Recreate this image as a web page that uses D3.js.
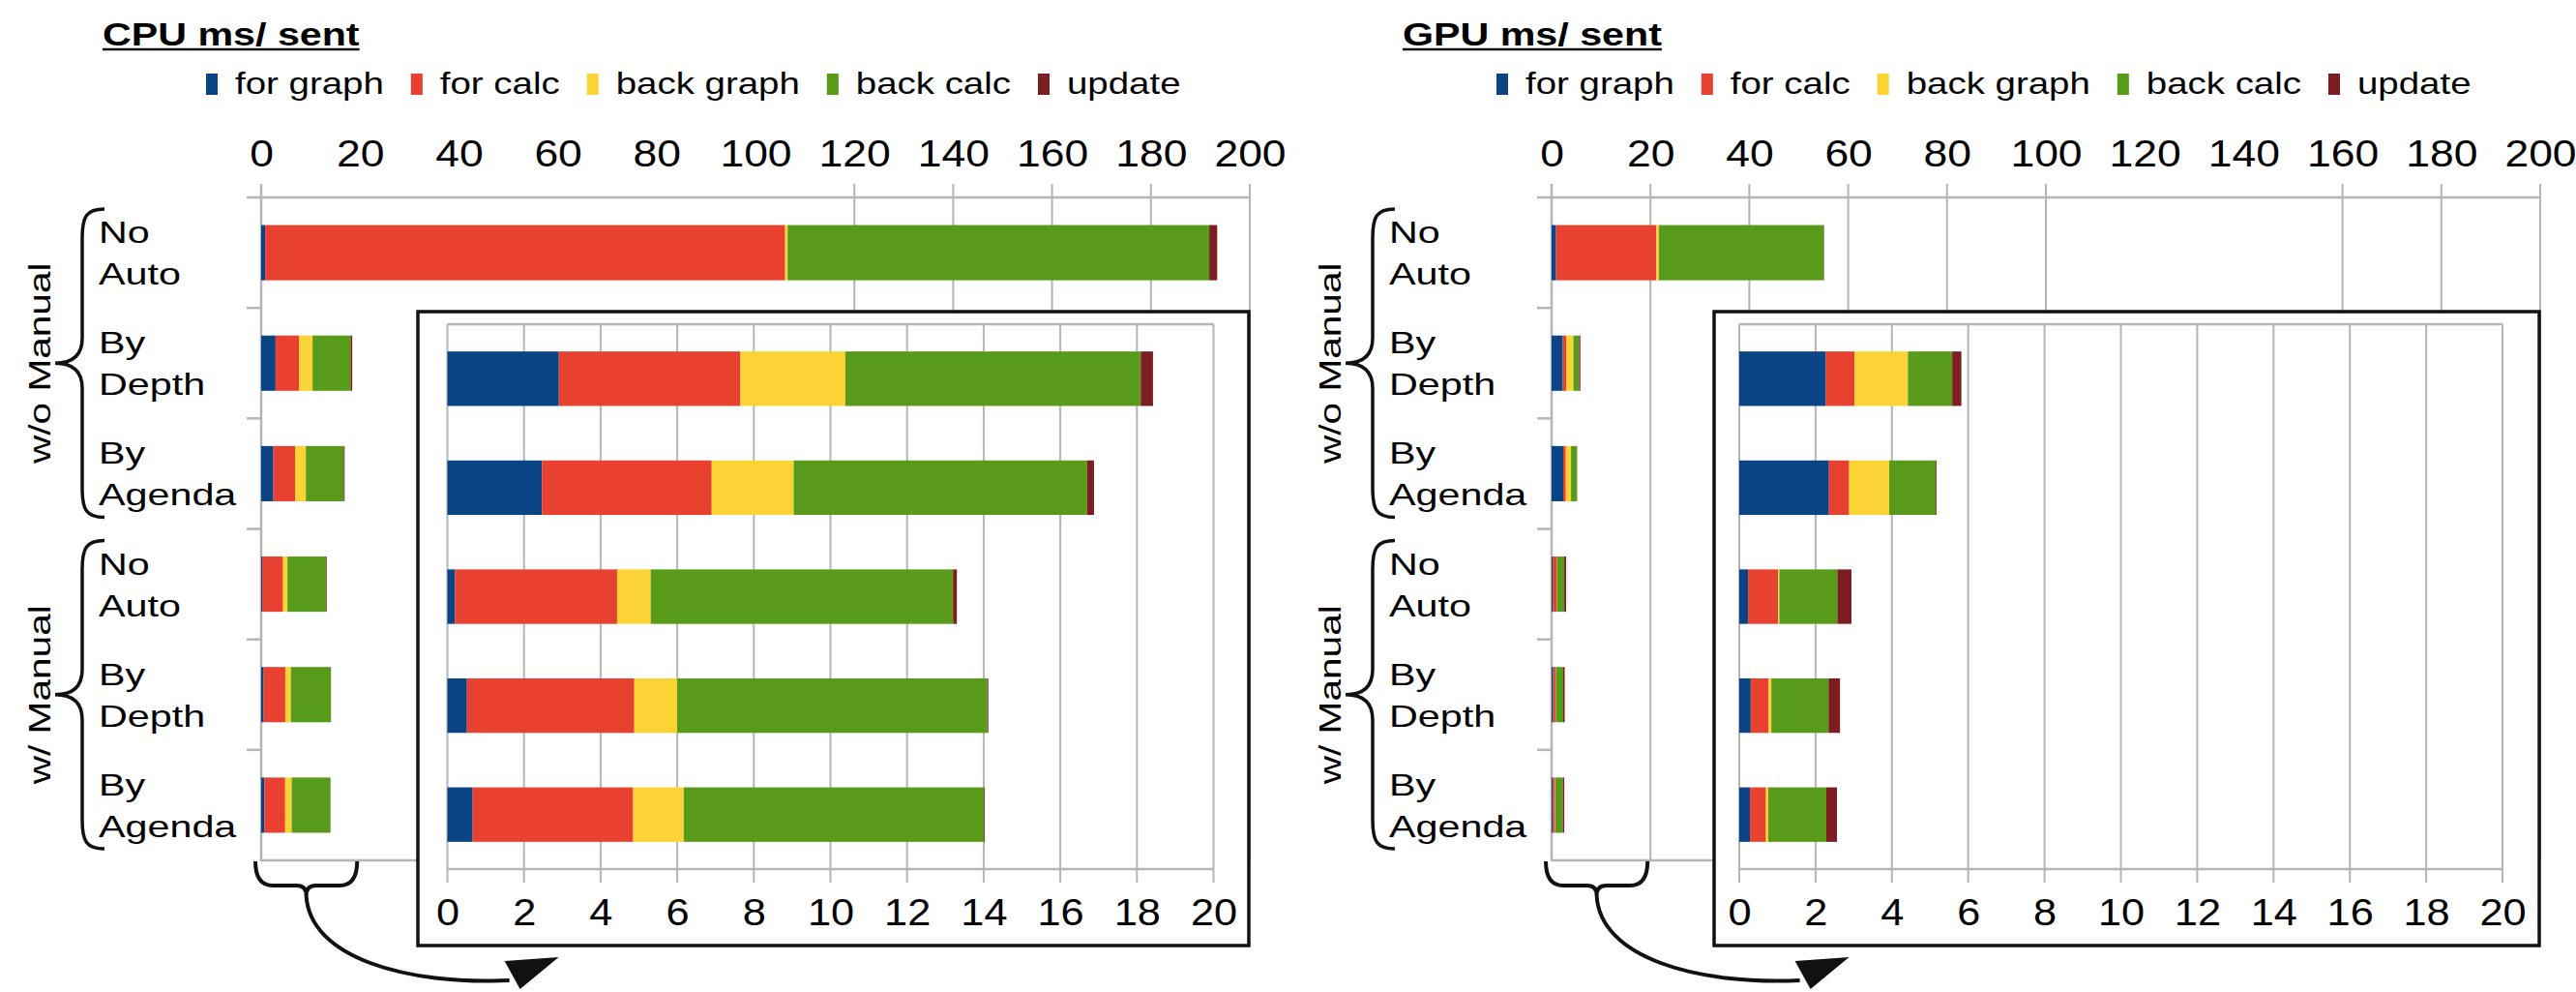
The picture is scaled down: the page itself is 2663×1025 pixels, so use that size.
<!DOCTYPE html>
<html>
<head>
<meta charset="utf-8">
<script src="https://cdn.jsdelivr.net/npm/d3@7"></script>
<style>
  body { margin: 0; background: #fff; }
  text { font-family: "Liberation Sans", Arial, sans-serif; fill: #000; }
</style>
</head>
<body>
<svg id="mainFrame" width="2663" height="1025"></svg>
<script>
const svg = d3.select('#mainFrame');

// ---- data ----
const seriesNames = ['for graph', 'for calc', 'back graph', 'back calc', 'update'];
const seriesColors = ['#0a4484', '#e8412f', '#fbd334', '#589a1a', '#7c1e21'];
const rowLabels = [['No', 'Auto'], ['By', 'Depth'], ['By', 'Agenda'], ['No', 'Auto'], ['By', 'Depth'], ['By', 'Agenda']];
const groupLabels = ['w/o Manual', 'w/ Manual'];
const mainTicks = [0, 20, 40, 60, 80, 100, 120, 140, 160, 180, 200];
const zoomTicks = [0, 2, 4, 6, 8, 10, 12, 14, 16, 18, 20];

const cpuForGraph  = [0.8, 2.91, 2.47, 0.2, 0.51, 0.66];
const cpuForCalc   = [105.2, 4.74, 4.43, 4.23, 4.37, 4.19];
const cpuBackGraph = [0.5, 2.74, 2.14, 0.88, 1.12, 1.32];
const cpuBackCalc  = [85.3, 7.71, 7.66, 7.89, 8.1, 7.84];
const cpuUpdate    = [1.6, 0.32, 0.18, 0.1, 0.02, 0.02];

const gpuForGraph  = [0.9, 2.27, 2.35, 0.23, 0.3, 0.28];
const gpuForCalc   = [20.3, 0.75, 0.53, 0.79, 0.47, 0.42];
const gpuBackGraph = [0.5, 1.4, 1.05, 0.03, 0.07, 0.06];
const gpuBackCalc  = [33.4, 1.16, 1.22, 1.52, 1.5, 1.52];
const gpuUpdate    = [0.05, 0.24, 0.02, 0.37, 0.3, 0.28];

const gridColor = '#b5b5b5';

// text that is wider than the installed fonts: stretch horizontally
const stext = (sel, x, y, str, size, sx, anchor = 'start', weight = 'normal') =>
    sel.append('text')
        .attr('transform', `translate(${x},${y}) scale(${sx},1)`)
        .attr('font-size', size)
        .attr('font-weight', weight)
        .attr('text-anchor', anchor)
        .text(str);

const render = cfg => {
    const g = svg.append('g').attr('transform', `translate(${cfg.ox},0)`);

    const rows = d3.range(6).map(i => {
        const r = {};
        seriesNames.forEach((s, k) => r[s] = cfg.values[k][i]);
        return r;
    });
    const stacked = d3.stack().keys(seriesNames)(rows);

    // title
    const title = stext(g, cfg.titleX, 47, cfg.title, 33.5, 1.23, 'start', 'bold');
    const tw = title.node().getComputedTextLength() * 1.23;
    g.append('line')
        .attr('x1', cfg.titleX).attr('x2', cfg.titleX + tw)
        .attr('y1', 51).attr('y2', 51)
        .attr('stroke', '#111').attr('stroke-width', 2.5);

    // legend
    let lx = 213;
    seriesNames.forEach((s, k) => {
        g.append('rect')
            .attr('x', lx).attr('y', 76).attr('width', 12).attr('height', 22)
            .attr('fill', seriesColors[k]);
        const t = stext(g, lx + 30, 97, s, 31, 1.24);
        lx += 30 + t.node().getComputedTextLength() * 1.24 + 28;
    });

    // main scales
    const xScale = d3.scaleLinear().domain([0, 200]).range([270, 1292]);
    const yScale = d3.scaleBand().domain(d3.range(6)).range([204, 889])
        .paddingInner(0.5).paddingOuter(0.25);
    const step = yScale.step();

    // grid lines
    g.selectAll('.grid').data(cfg.grid)
        .enter().append('line')
            .attr('x1', d => xScale(d)).attr('x2', d => xScale(d))
            .attr('y1', 190).attr('y2', 889)
            .attr('stroke', gridColor).attr('stroke-width', 2);

    // axis frame
    g.append('line').attr('x1', 255).attr('x2', xScale(200)).attr('y1', 204).attr('y2', 204)
        .attr('stroke', gridColor).attr('stroke-width', 2.5);
    g.append('line').attr('x1', xScale(0)).attr('x2', xScale(200)).attr('y1', 889).attr('y2', 889)
        .attr('stroke', gridColor).attr('stroke-width', 2.5);
    g.append('line').attr('x1', xScale(0)).attr('x2', xScale(0)).attr('y1', 190).attr('y2', 890)
        .attr('stroke', gridColor).attr('stroke-width', 2.5);
    g.selectAll('.sep').data(d3.range(1, 6))
        .enter().append('line')
            .attr('x1', 255).attr('x2', xScale(0))
            .attr('y1', d => 204 + d * step).attr('y2', d => 204 + d * step)
            .attr('stroke', gridColor).attr('stroke-width', 2.5);

    // top tick labels
    const xAxis = d3.axisTop(xScale).tickValues(mainTicks).tickSize(0).tickPadding(32);
    const xAxisGroup = g.append('g').attr('transform', 'translate(0,204)').call(xAxis);
    xAxisGroup.select('.domain').remove();
    xAxisGroup.selectAll('text')
        .attr('font-size', 39).attr('font-family', '"Liberation Sans", Arial, sans-serif')
        .attr('transform', 'scale(1.14,1)');

    // main bars
    stacked.forEach((layer, k) => {
        g.selectAll(null).data(layer)
            .enter().append('rect')
                .attr('x', d => xScale(d[0]))
                .attr('y', (d, i) => yScale(i))
                .attr('width', d => Math.max(0, xScale(d[1]) - xScale(d[0])))
                .attr('height', yScale.bandwidth())
                .attr('fill', seriesColors[k]);
    });

    // row labels
    rowLabels.forEach((lines, i) => {
        const c = yScale(i) + yScale.bandwidth() / 2;
        stext(g, 102, c - 10, lines[0], 32, 1.29);
        stext(g, 102, c + 33, lines[1], 32, 1.29);
    });

    // left braces and group labels
    groupLabels.forEach((lab, j) => {
        const top = 204 + j * 3 * step + 12;
        const bot = 204 + (j + 1) * 3 * step - 12;
        const mid = (top + bot) / 2;
        const bx = 85, tx = 108, px = 57;
        g.append('path')
            .attr('d', `M${tx},${top} C${bx + 4},${top} ${bx},${top + 8} ${bx},${top + 30}
                        L${bx},${mid - 26} C${bx},${mid - 8} ${bx - 10},${mid} ${px},${mid}
                        C${bx - 10},${mid} ${bx},${mid + 8} ${bx},${mid + 26}
                        L${bx},${bot - 30} C${bx},${bot - 8} ${bx + 4},${bot} ${tx},${bot}`)
            .attr('fill', 'none').attr('stroke', '#111').attr('stroke-width', 3.5);
        g.append('text')
            .attr('transform', `translate(52,${mid}) rotate(-90) scale(1.31,1)`)
            .attr('font-size', 31)
            .attr('text-anchor', 'middle')
            .text(lab);
    });

    // bottom brace + arrow
    const b0 = xScale(0) - 6, b1 = xScale(20) - 3, bc = (b0 + b1) / 2;
    g.append('path')
        .attr('d', `M${b0},890 Q${b0},915 ${b0 + 18},915 L${bc - 10},915 Q${bc},915 ${bc},925
                    M${b1},890 Q${b1},915 ${b1 - 18},915 L${bc + 10},915 Q${bc},915 ${bc},925
                    C${bc + 3},990 ${bc + 105},1018 ${bc + 210},1013`)
        .attr('fill', 'none').attr('stroke', '#111').attr('stroke-width', 4);
    g.append('path')
        .attr('d', `M${bc + 205},993 L${bc + 261},989 L${bc + 221},1022 Z`)
        .attr('fill', '#111');

    // zoom box
    g.append('rect')
        .attr('x', cfg.boxLeft).attr('y', 322)
        .attr('width', 1291 - cfg.boxLeft).attr('height', 655)
        .attr('fill', '#fff').attr('stroke', '#111').attr('stroke-width', 3.5);

    const xZoom = d3.scaleLinear().domain([0, 20]).range(cfg.zoomRange);
    const yZoom = d3.scaleBand().domain(d3.range(1, 6)).range([335, 898])
        .paddingInner(0.5).paddingOuter(0.25);

    g.selectAll('.zgrid').data(zoomTicks)
        .enter().append('line')
            .attr('x1', d => xZoom(d)).attr('x2', d => xZoom(d))
            .attr('y1', 335).attr('y2', 912)
            .attr('stroke', gridColor).attr('stroke-width', 2);
    g.append('line').attr('x1', xZoom(0)).attr('x2', xZoom(20)).attr('y1', 335).attr('y2', 335)
        .attr('stroke', gridColor).attr('stroke-width', 2.5);
    g.append('line').attr('x1', xZoom(0)).attr('x2', xZoom(20)).attr('y1', 898).attr('y2', 898)
        .attr('stroke', gridColor).attr('stroke-width', 2.5);

    stacked.forEach((layer, k) => {
        g.selectAll(null).data(layer.slice(1))
            .enter().append('rect')
                .attr('x', d => xZoom(d[0]))
                .attr('y', (d, i) => yZoom(i + 1))
                .attr('width', d => Math.max(0, xZoom(d[1]) - xZoom(d[0])))
                .attr('height', yZoom.bandwidth())
                .attr('fill', seriesColors[k]);
    });

    const zAxis = d3.axisBottom(xZoom).tickValues(zoomTicks).tickSize(0).tickPadding(31);
    const zAxisGroup = g.append('g').attr('transform', 'translate(0,898)').call(zAxis);
    zAxisGroup.select('.domain').remove();
    zAxisGroup.selectAll('text')
        .attr('font-size', 38).attr('font-family', '"Liberation Sans", Arial, sans-serif')
        .attr('transform', 'scale(1.14,1)');
};

render({
    ox: 0, title: 'CPU ms/ sent', titleX: 106, boxLeft: 432, zoomRange: [462.5, 1254.5],
    grid: [120, 140, 160, 180, 200],
    values: [cpuForGraph, cpuForCalc, cpuBackGraph, cpuBackCalc, cpuUpdate]
});
render({
    ox: 1334, title: 'GPU ms/ sent', titleX: 116, boxLeft: 438, zoomRange: [464, 1253],
    grid: [20, 40, 60, 80, 100, 160, 180, 200],
    values: [gpuForGraph, gpuForCalc, gpuBackGraph, gpuBackCalc, gpuUpdate]
});
</script>
</body>
</html>
